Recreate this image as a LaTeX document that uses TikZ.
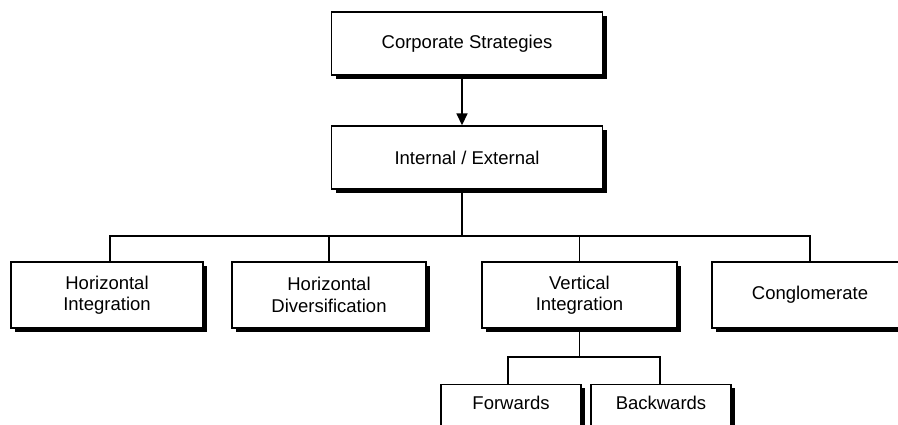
\documentclass[tikz,border=0pt]{standalone}
\usepackage{fontspec}
\setmainfont{Liberation Sans}
\usepackage{tikz}
\usetikzlibrary{positioning}
\usetikzlibrary{shadows}
\usetikzlibrary{arrows.meta}
\tikzstyle{box} = [rectangle,draw,fill=white,align=center,line width=1.6pt,inner sep=2pt,
  font=\fontsize{18.5}{21.7}\selectfont,
  drop shadow={fill=black,opacity=1,shadow xshift=4pt,shadow yshift=-4pt}]
\tikzstyle{wide} = [box,minimum width=271pt,minimum height=63pt]
\tikzstyle{kind} = [box,minimum height=66pt]
\tikzstyle{sub} = [box,minimum width=140pt,minimum height=46pt,text depth=9pt]

\begin{document}
\begin{tikzpicture}[line width=1.6pt,node distance=1cm]

	\tikzstyle{arrow}=[-{Triangle[length=12pt,width=11pt]}];

	\path[use as bounding box,clip] (0,0) rectangle (898pt,-425pt);

	\node (corp) [wide] at (467pt,-43.5pt) {Corporate Strategies};
	\node (intern) [wide,below=49.5pt of corp] {Internal / External};
	\node (vint) [kind,minimum width=195pt,below=71.5pt of intern,xshift=112.5pt] {Vertical\\Integration};
	\node (hdiv) [kind,minimum width=194pt,left=54.4pt of vint] {Horizontal\\Diversification};
	\node (hint) [kind,minimum width=192pt,left=27.4pt of hdiv] {Horizontal\\Integration};
	\node (cong) [kind,minimum width=196pt,right=33.4pt of vint] {Conglomerate};
	\node (fwd) [sub,below=54.5pt of vint,xshift=-68.5pt] {Forwards};
	\node (bwd) [sub,right=8.4pt of fwd] {Backwards};

	\coordinate[below=46pt of intern.south,xshift=-5pt] (bus);
	\coordinate[below=28pt of vint.south] (subbus);

	\path[arrow]
		([xshift=-5pt]corp.south) edge ([xshift=-5pt]intern.north);
	\draw ([xshift=-5pt]intern.south) -- (bus);
	\draw ([xshift=3pt]hint.north) |- (bus) -| (cong.north);
	\draw (hdiv.north) -- (hdiv.north |- bus);
	\draw (vint.north) -- (vint.north |- bus);
	\draw (vint.south) -- (subbus);
	\draw ([xshift=-3pt]fwd.north) |- (subbus) -| ([xshift=-1pt]bwd.north);
\end{tikzpicture}
\end{document}
